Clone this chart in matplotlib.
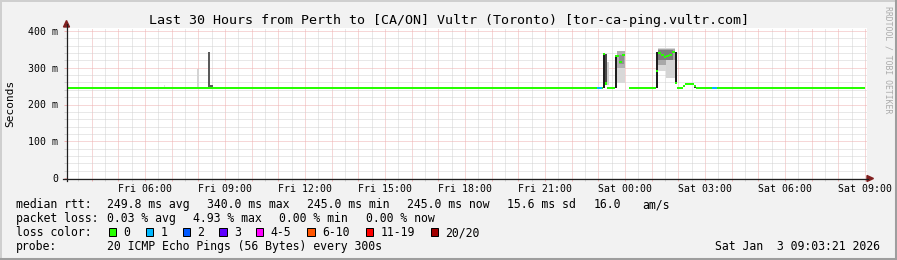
import numpy as np
import matplotlib
matplotlib.use("Agg")
import matplotlib.pyplot as plt
from matplotlib.patches import Rectangle, Polygon
from matplotlib.lines import Line2D

W, H = 897, 260

# ---------------- data ----------------
title = "Last 30 Hours from Perth to [CA/ON] Vultr (Toronto) [tor-ca-ping.vultr.com]"
t_start, t_end = 3.0558, 33.0558          # hours since Fri 00:00
data_end = 33.0

# median rtt steps: start hour, median (ms), lost pings (nan = no data)
med_start = [3.06, 22.95, 23.13, 23.18, 23.25, 23.33, 23.62, 23.70, 23.78, 23.87,
             24.01, 24.16, 25.16, 25.23, 25.34, 25.46, 25.53, 25.65, 25.76, 25.87,
             25.95, 26.17, 26.25, 26.60, 26.68, 27.28, 27.44]
med_value = [245, 245, 245, 337, 257, 245, 332, 332, 316, 334,
             np.nan, 245, 291, 341, 335, 330, 332, 335, 343, 259,
             245, 251, 256, 251, 245, 245, 245]
med_loss = [0, 1, 0, 0, 0, 0, 0, 0, 0, 0,
            0, 0, 0, 0, 0, 0, 0, 0, 0, 0,
            0, 0, 0, 0, 0, 1, 0]

# smoke bands (individual ping spread)
smoke_t0 = [6.70, 7.95, 8.35, 8.43, 23.18, 23.25, 23.33, 23.62, 23.70, 23.70, 23.76,
            25.16, 25.23, 25.23, 25.25, 25.55, 25.87, 26.60]
smoke_t1 = [6.76, 8.03, 8.43, 8.55, 23.25, 23.33, 23.40, 23.70, 24.01, 24.01, 23.95,
            25.23, 25.87, 25.87, 25.80, 25.90, 25.95, 26.68]
smoke_lo = [245, 245, 245, 245, 245, 257, 252, 245, 258, 300, 310,
            245, 290, 308, 322, 272, 259, 245]
smoke_hi = [252, 296, 343, 252, 337, 337, 316, 332, 345, 345, 335,
            344, 355, 352, 348, 320, 343, 252]
smoke_grey = ['#e0e0e0', '#d4d4d4', '#5a5a5a', '#5a5a5a', '#1e1e1e', '#4a4a4a', '#d0d0d0',
              '#1e1e1e', '#d8d8d8', '#b0b0b0', '#909090',
              '#1e1e1e', '#d8d8d8', '#a8a8a8', '#7c7c7c', '#d4d4d4', '#1e1e1e', '#303030']

loss_labels = ['0', '1', '2', '3', '4-5', '6-10', '11-19', '20/20']
loss_colors = ['#26ff00', '#00b8ff', '#0059ff', '#5e00ff', '#ff00ff', '#ff5500', '#ff0000', '#a10000']

y_ticks = [0, 100, 200, 300, 400]
y_labels = ['0', '100 m', '200 m', '300 m', '400 m']

stats_rtt = ['median rtt:', '249.8 ms avg', '340.0 ms max', '245.0 ms min', '245.0 ms now',
             '15.6 ms sd', '16.0', 'am/s']
stats_loss = ['packet loss:', '0.03 % avg', '4.93 % max', '0.00 % min', '0.00 % now']
probe_text = ['probe:', '20 ICMP Echo Pings (56 Bytes) every 300s']
stamp = 'Sat Jan  3 09:03:21 2026'
watermark = 'RRDTOOL / TOBI OETIKER'

# ---------------- style ----------------
BACK = '#f2f2f2'
SHADEA = '#cfcfcf'
SHADEB = '#9e9e9e'
GRID = '#d2d2d2'
MGRID = '#efb0b0'
ARROW = '#801f1f'
AXIS = '#1f1f1f'
MONO = 'DejaVu Sans Mono'
MED_HALF = 3.0   # half thickness of median band (ms)

fig = plt.figure(figsize=(W / 100, H / 100), dpi=100, facecolor=BACK)

def fx(x):
    return x / W

def fy(y):
    return 1 - y / H

# frame shading
fig.add_artist(Line2D([fx(0.5), fx(0.5)], [fy(0), fy(259)], color=SHADEA, lw=1.44))
fig.add_artist(Line2D([fx(0), fx(896)], [fy(0.5), fy(0.5)], color=SHADEA, lw=1.44))
fig.add_artist(Line2D([fx(895.8), fx(895.8)], [fy(1), fy(260)], color=SHADEB, lw=2.2))
fig.add_artist(Line2D([fx(1), fx(897)], [fy(258.6), fy(258.6)], color=SHADEB, lw=2.2))

L, R, T, B = 66.5, 866.5, 28, 178
ax = fig.add_axes([fx(L), fy(B), (R - L) / W, (B - T) / H])
ax.set_facecolor('white')
ax.set_xlim(t_start, t_end)
ax.set_ylim(0, (B - T) / 0.3675)

for s in ax.spines.values():
    s.set_visible(False)

# grid
hours_major = np.arange(4, 34)
hours_minor = np.arange(3.5, 33.1, 0.5)
ax.set_xticks(hours_major)
ax.set_xticks(hours_minor, minor=True)
xlabels = []
for h in hours_major:
    if h % 3 == 0:
        day = 'Fri' if h < 24 else 'Sat'
        xlabels.append(f"{day} {h % 24:02d}:00")
    else:
        xlabels.append('')
ax.set_xticklabels(xlabels, family=MONO, fontsize=7.1)
ax.set_yticks(y_ticks)
ax.set_yticks(np.arange(20, 401, 20), minor=True)
ax.set_yticklabels(y_labels, family=MONO, fontsize=7.1)
ax.tick_params(axis='both', which='major', length=2.5, width=0.72, color=MGRID, pad=1.6)
ax.tick_params(axis='y', which='major', pad=3.4)
ax.tick_params(axis='both', which='minor', length=2.5, width=0.72, color=GRID)
ax.grid(which='minor', color=GRID, linestyle=(0, (1, 1)), lw=0.72, snap=True)
ax.grid(which='major', color=MGRID, linestyle=(0, (1, 1)), lw=0.72, snap=True)
ax.set_axisbelow(True)

# smoke
for t0, t1, lo, hi, c in zip(smoke_t0, smoke_t1, smoke_lo, smoke_hi, smoke_grey):
    ax.bar(t0, hi - lo, width=t1 - t0, bottom=lo, align='edge', color=c, linewidth=0, zorder=2)

# median: a thin band per step, coloured by loss (no vertical connectors)
ends = med_start[1:] + [data_end]
for s, e, v, l in zip(med_start, ends, med_value, med_loss):
    if np.isnan(v):
        continue
    ax.bar(s, 2 * MED_HALF, width=e - s, bottom=v - MED_HALF, align='edge',
           color=loss_colors[l], linewidth=0, zorder=3)

# axes lines and arrows
fig.add_artist(Line2D([fx(63), fx(868)], [fy(178.5), fy(178.5)], color=AXIS, lw=0.9))
fig.add_artist(Line2D([fx(66.5), fx(66.5)], [fy(181), fy(24)], color=AXIS, lw=0.9))
fig.add_artist(Polygon([[fx(63.5), fy(27)], [fx(69.5), fy(27)], [fx(66.5), fy(20.5)]],
                       closed=True, transform=fig.transFigure, color=ARROW))
fig.add_artist(Polygon([[fx(867), fy(175.5)], [fx(867), fy(181.5)], [fx(873.5), fy(178.5)]],
                       closed=True, transform=fig.transFigure, color=ARROW))

# texts
fig.text(fx(448.5), fy(24), title, family=MONO, fontsize=9.6, ha='center', va='baseline')
fig.text(fx(10), fy(103), 'Seconds', family=MONO, fontsize=8, rotation=90,
         ha='center', va='center')
fig.text(fx(887.5), fy(60), watermark, family=MONO, fontsize=5.9, rotation=270,
         ha='center', va='center', color='#ababab')

LS = 8.3
row_x1 = [16, 107.3, 207.3, 307.3, 407.3, 507.3, 593.3, 642.7]
for x, s in zip(row_x1, stats_rtt):
    fig.text(fx(x), fy(208), s, family=MONO, fontsize=LS, va='baseline')
row_x2 = [16, 107.3, 193.3, 279.3, 365.5]
for x, s in zip(row_x2, stats_loss):
    fig.text(fx(x), fy(222), s, family=MONO, fontsize=LS, va='baseline')
fig.text(fx(16), fy(236), 'loss color:', family=MONO, fontsize=LS, va='baseline')
box_x = [108.7, 145.7, 182.7, 219.3, 256, 307.3, 366, 430.7]
for x, lab, c in zip(box_x, loss_labels, loss_colors):
    fig.add_artist(Rectangle((fx(x), fy(236)), 7.3 / W, 7.7 / H, transform=fig.transFigure,
                             facecolor=c, edgecolor='black', lw=0.72))
    fig.text(fx(x + 14.6), fy(236), lab, family=MONO, fontsize=LS, va='baseline')
fig.text(fx(16), fy(250), probe_text[0], family=MONO, fontsize=LS, va='baseline')
fig.text(fx(107.3), fy(250), probe_text[1], family=MONO, fontsize=LS, va='baseline')
fig.text(fx(880), fy(250), stamp, family=MONO, fontsize=LS, va='baseline', ha='right')

fig.savefig('out.png', dpi=100, facecolor=BACK)
